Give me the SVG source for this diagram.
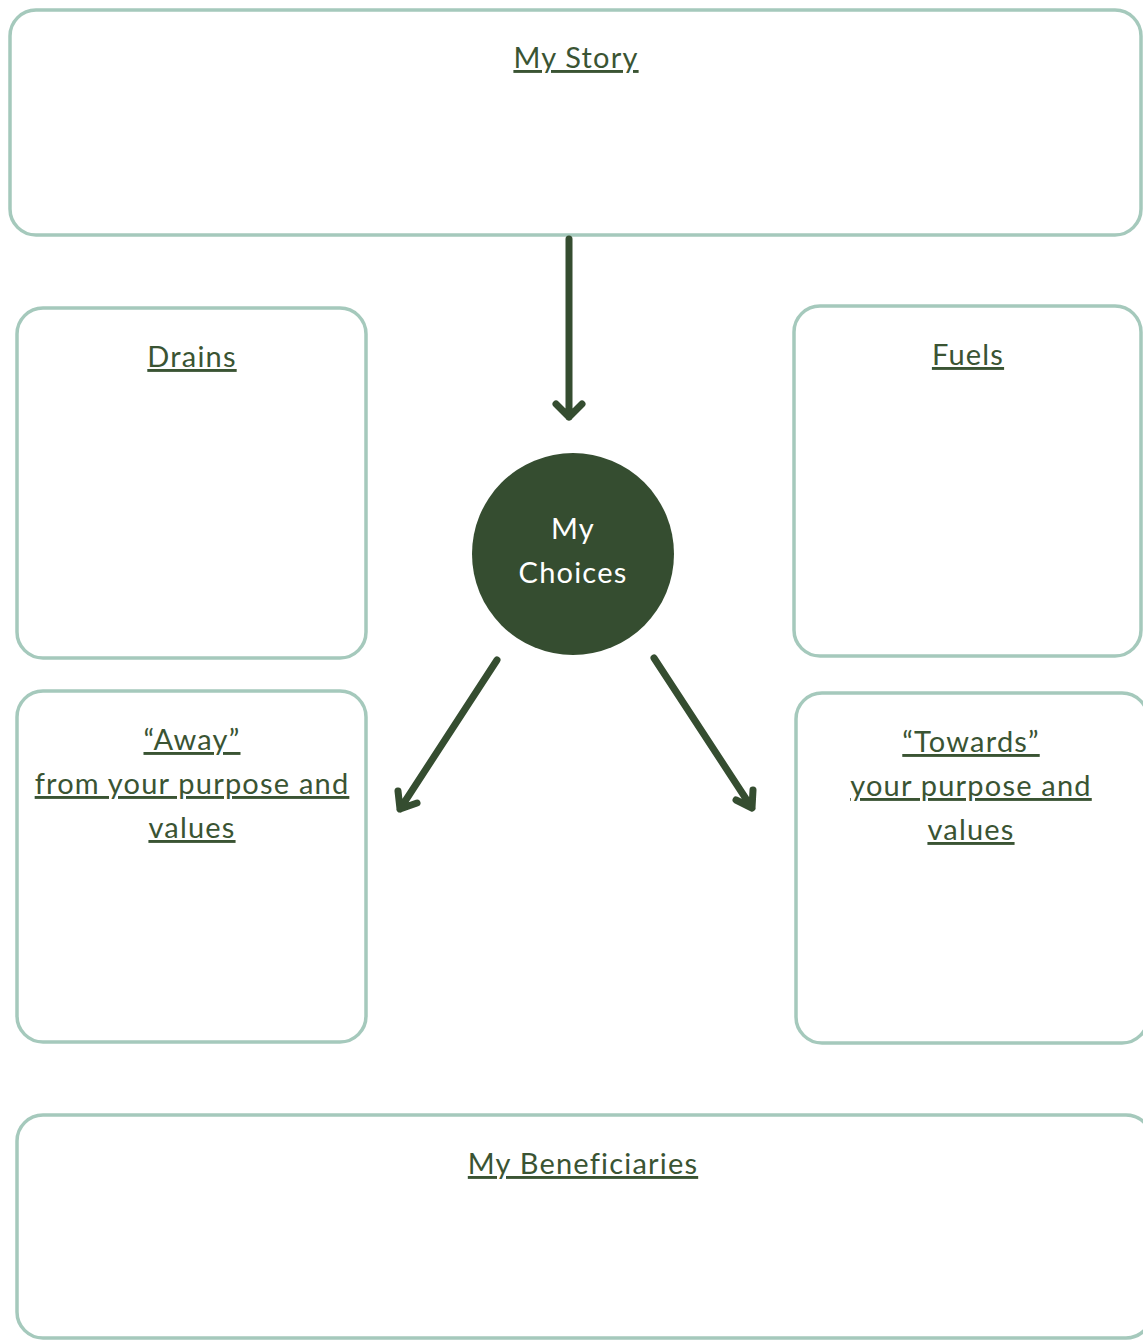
<svg xmlns="http://www.w3.org/2000/svg" width="1143" height="1340" viewBox="0 0 1143 1340">
<style>
.box{fill:#fff;stroke:#a5c9bc;stroke-width:3.5}
.t{font-family:Lato,"Noto Sans",sans-serif;font-size:29px;letter-spacing:1.2px;fill:#3a5433;text-anchor:middle;text-decoration:underline}
.c{font-family:Lato,"Noto Sans",sans-serif;font-size:29px;letter-spacing:1.2px;fill:#ffffff;text-anchor:middle}
.arr{fill:none;stroke:#354d30;stroke-width:7;stroke-linecap:round;stroke-linejoin:round}
</style>
<rect width="1143" height="1340" fill="#fff"/>
<g id="my-story"><rect class="box" x="10" y="10" width="1131" height="225" rx="26"/><text class="t" x="576" y="68">My Story</text></g>
<g id="drains"><rect class="box" x="17" y="308" width="349" height="350" rx="26"/><text class="t" x="192" y="367">Drains</text></g>
<g id="fuels"><rect class="box" x="794" y="306" width="347" height="350" rx="26"/><text class="t" x="968" y="365">Fuels</text></g>
<g id="my-choices"><circle cx="573" cy="554" r="101" fill="#354d30"/><text class="c" x="573" y="539">My</text><text class="c" x="573" y="583">Choices</text></g>
<g id="away"><rect class="box" x="17" y="691" width="349" height="351" rx="26"/><text class="t" x="192" y="750">“Away”</text><text class="t" x="192" y="794">from your purpose and</text><text class="t" x="192" y="838">values</text></g>
<g id="towards"><rect class="box" x="796" y="693" width="352" height="350" rx="26"/><text class="t" x="971" y="752">“Towards”</text><text class="t" x="971" y="796">your purpose and</text><text class="t" x="971" y="840">values</text></g>
<g id="my-beneficiaries"><rect class="box" x="17" y="1115" width="1135" height="223" rx="26"/><text class="t" x="583" y="1174">My Beneficiaries</text></g>
<g id="connectors">
<path class="arr" d="M569 239 V417 M556 404 L569 417 L582 404"/>
<path class="arr" d="M497 660 L400 809 M398 791 L400 809 L417 803"/>
<path class="arr" d="M654 658 L752 808 M736 800 L752 808 L753 790"/>
</g>
</svg>
